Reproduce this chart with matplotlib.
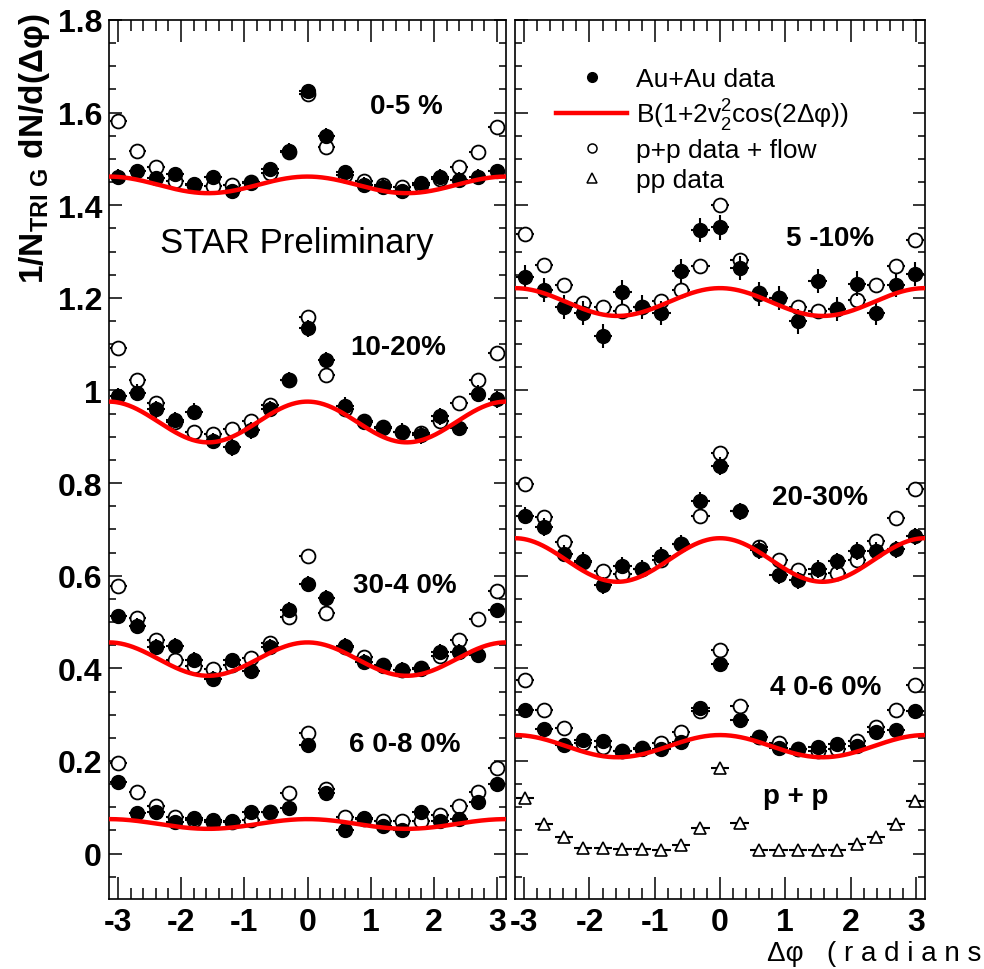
import numpy as np
import matplotlib
matplotlib.use("Agg")
import matplotlib.pyplot as plt
from matplotlib.lines import Line2D
from matplotlib.ticker import MultipleLocator, FixedLocator

plt.rcParams['font.family'] = ['Liberation Sans', 'DejaVu Sans']
plt.rcParams['mathtext.fontset'] = 'custom'
plt.rcParams['mathtext.rm'] = 'Liberation Sans'
plt.rcParams['mathtext.bf'] = 'Liberation Sans:bold'

# bin centres of 21 bins in [-pi, pi]
nbins = 21
dphi = -np.pi + (np.arange(nbins) + 0.5) * (2 * np.pi / nbins)

# ---------------- data (left panel) ----------------
auau_0_5 = [1.462, 1.474, 1.458, 1.467, 1.446, 1.460, 1.430, 1.448, 1.478, 1.518, 1.646,
            1.550, 1.471, 1.444, 1.440, 1.430, 1.448, 1.462, 1.455, 1.462, 1.473]
ppf_0_5 = [1.581, 1.518, 1.482, 1.453, 1.444, 1.442, 1.444, 1.451, 1.469, 1.514, 1.640,
           1.525, 1.466, 1.453, 1.444, 1.440, 1.443, 1.457, 1.482, 1.516, 1.569]
auau_10_20 = [0.988, 0.995, 0.959, 0.936, 0.954, 0.891, 0.877, 0.914, 0.960, 1.023, 1.134,
              1.065, 0.967, 0.932, 0.919, 0.911, 0.903, 0.944, 0.919, 0.993, 0.981]
ppf_10_20 = [1.092, 1.022, 0.974, 0.931, 0.911, 0.905, 0.916, 0.935, 0.968, 1.023, 1.158,
             1.033, 0.961, 0.935, 0.922, 0.911, 0.908, 0.935, 0.972, 1.022, 1.081]
auau_30_40 = [0.512, 0.491, 0.446, 0.449, 0.418, 0.377, 0.417, 0.395, 0.446, 0.527, 0.583,
              0.552, 0.448, 0.413, 0.405, 0.397, 0.399, 0.435, 0.436, 0.429, 0.525]
ppf_30_40 = [0.578, 0.509, 0.462, 0.418, 0.405, 0.399, 0.408, 0.423, 0.455, 0.511, 0.643,
             0.519, 0.446, 0.424, 0.408, 0.397, 0.400, 0.426, 0.462, 0.507, 0.566]
auau_60_80 = [0.154, 0.087, 0.089, 0.069, 0.077, 0.072, 0.071, 0.090, 0.090, 0.098, 0.235,
              0.130, 0.051, 0.076, 0.059, 0.051, 0.090, 0.071, 0.075, 0.111, 0.150]
ppf_60_80 = [0.196, 0.134, 0.103, 0.080, 0.073, 0.069, 0.069, 0.073, 0.089, 0.130, 0.261,
             0.139, 0.080, 0.075, 0.071, 0.070, 0.070, 0.084, 0.103, 0.134, 0.184]

# ---------------- data (right panel) ----------------
auau_5_10 = [1.246, 1.217, 1.180, 1.167, 1.117, 1.213, 1.180, 1.168, 1.257, 1.347, 1.352,
             1.264, 1.208, 1.199, 1.149, 1.236, 1.176, 1.231, 1.168, 1.228, 1.251]
ppf_5_10 = [1.337, 1.271, 1.228, 1.190, 1.180, 1.172, 1.181, 1.193, 1.218, 1.269, 1.401,
            1.282, 1.210, 1.199, 1.180, 1.172, 1.177, 1.195, 1.228, 1.269, 1.325]
auau_20_30 = [0.730, 0.705, 0.648, 0.632, 0.579, 0.622, 0.614, 0.643, 0.668, 0.762, 0.837,
              0.739, 0.655, 0.601, 0.590, 0.614, 0.631, 0.653, 0.653, 0.657, 0.685]
ppf_20_30 = [0.798, 0.727, 0.673, 0.630, 0.610, 0.604, 0.614, 0.635, 0.669, 0.729, 0.864,
             0.739, 0.661, 0.633, 0.612, 0.603, 0.607, 0.633, 0.675, 0.725, 0.787]
auau_40_60 = [0.311, 0.269, 0.235, 0.245, 0.244, 0.221, 0.226, 0.226, 0.242, 0.315, 0.410,
              0.289, 0.251, 0.228, 0.226, 0.230, 0.237, 0.233, 0.262, 0.267, 0.307]
ppf_40_60 = [0.375, 0.311, 0.271, 0.238, 0.230, 0.222, 0.228, 0.238, 0.262, 0.309, 0.439,
             0.318, 0.251, 0.238, 0.226, 0.221, 0.226, 0.244, 0.273, 0.311, 0.364]
pp_data = [0.120, 0.064, 0.035, 0.013, 0.013, 0.010, 0.010, 0.008, 0.018, 0.056, 0.184,
           0.067, 0.008, 0.008, 0.008, 0.008, 0.008, 0.021, 0.035, 0.063, 0.114]

# flow-modulated background parameters: B and v2^2
B_left = [1.444, 0.932, 0.420, 0.064]
v2sq_left = [0.0062, 0.0236, 0.0429, 0.082]
B_right = [1.191, 0.634, 0.232]
v2sq_right = [0.0126, 0.0371, 0.0517]

# statistical errors (Au+Au)
err_left = [0.016, 0.018, 0.017, 0.015]
err_right = [0.026, 0.019, 0.013]

labels_left = ["0-5 %", "10-20%", "30-4 0%", "6 0-8 0%"]
labels_right = ["5 -10%", "20-30%", "4 0-6 0%"]

yticks = [0, 0.2, 0.4, 0.6, 0.8, 1.0, 1.2, 1.4, 1.6, 1.8]
ytick_labels = ["0", "0.2", "0.4", "0.6", "0.8", "1", "1.2", "1.4", "1.6", "1.8"]
xticks = [-3, -2, -1, 0, 1, 2, 3]

W, H = 984, 970
fig = plt.figure(figsize=(W / 100, H / 100), dpi=100)
axL = fig.add_axes([109 / W, 1 - 900 / H, (506 - 109) / W, (900 - 21) / H])
axR = fig.add_axes([515 / W, 1 - 900 / H, (925 - 515) / W, (900 - 21) / H])

xerr = 0.14
ms = 10


def draw_set(ax, auau, ppf, err, B, v2sq):
    ax.errorbar(dphi, ppf, xerr=xerr, fmt='o', mfc='white', mec='black', mew=1.3,
                ms=ms, color='black', elinewidth=1.5, capsize=0, zorder=3)
    ax.errorbar(dphi, auau, xerr=xerr, yerr=err, fmt='o', mfc='black', mec='black',
                ms=ms, color='black', elinewidth=1.5, capsize=0, zorder=4)
    xs = np.linspace(-np.pi, np.pi, 400)
    ax.plot(xs, B * (1 + 2 * v2sq * np.cos(2 * xs)), color='#ff0000', lw=3.2, zorder=5)


for i in range(4):
    auau = [auau_0_5, auau_10_20, auau_30_40, auau_60_80][i]
    ppf = [ppf_0_5, ppf_10_20, ppf_30_40, ppf_60_80][i]
    draw_set(axL, auau, ppf, err_left[i], B_left[i], v2sq_left[i])
for i in range(3):
    auau = [auau_5_10, auau_20_30, auau_40_60][i]
    ppf = [ppf_5_10, ppf_20_30, ppf_40_60][i]
    draw_set(axR, auau, ppf, err_right[i], B_right[i], v2sq_right[i])

axR.errorbar(dphi, pp_data, xerr=xerr, fmt='^', mfc='white', mec='black', mew=1.2,
             ms=9, color='black', elinewidth=1.5, capsize=0, zorder=3)

for ax in (axL, axR):
    ax.set_xlim(-np.pi, np.pi)
    ax.set_ylim(-0.098, 1.8)
    ax.xaxis.set_major_locator(FixedLocator(xticks))
    ax.xaxis.set_minor_locator(MultipleLocator(0.2))
    ax.yaxis.set_major_locator(FixedLocator(yticks))
    ax.yaxis.set_minor_locator(MultipleLocator(0.05))
    ax.tick_params(which='both', direction='in', top=True, right=True, width=1.1)
    ax.tick_params(axis='x', which='major', length=16, pad=6, labelsize=23)
    ax.tick_params(axis='x', which='minor', length=8)
    ax.tick_params(axis='y', which='major', length=9, pad=5, labelsize=23)
    ax.tick_params(axis='y', which='minor', length=5)
    ax.set_xticklabels([str(t) for t in xticks], fontweight='bold')
    for s in ax.spines.values():
        s.set_linewidth(1.2)

axL.set_yticklabels(ytick_labels, fontweight='bold')
axR.set_yticklabels([])


def ftext(x, y, s, **kw):
    fig.text(x / W, 1 - y / H, s, ha='center', va='center', **kw)


# panel labels
ftext(406, 107, labels_left[0], fontsize=20, fontweight='bold')
ftext(398, 348, labels_left[1], fontsize=20, fontweight='bold')
ftext(405, 586, labels_left[2], fontsize=20, fontweight='bold')
ftext(405, 745, labels_left[3], fontsize=20, fontweight='bold')
ftext(830, 239, labels_right[0], fontsize=20, fontweight='bold')
ftext(820, 498, labels_right[1], fontsize=20, fontweight='bold')
ftext(826, 688, labels_right[2], fontsize=20, fontweight='bold')
ftext(796, 797, "p + p", fontsize=20, fontweight='bold')
ftext(297, 243, "STAR Preliminary", fontsize=25)

# y label
fig.text(35 / W, 1 - 14 / H, r"1/N$_{\mathbf{TRI\ G}}$ dN/d(Δφ)", rotation=90,
         ha='center', va='top', fontsize=24, fontweight='bold')
# x label (ends at the figure edge like the reference)
fig.text(981 / W, 1 - 954 / H, "Δφ   ( r a d i a n s", ha='right', va='center',
         fontsize=20)

# legend
handles = [
    Line2D([], [], ls='none', marker='o', mfc='black', mec='black', ms=7),
    Line2D([], [], color='#ff0000', lw=3.2),
    Line2D([], [], ls='none', marker='o', mfc='white', mec='black', ms=6.5, mew=1.1),
    Line2D([], [], ls='none', marker='^', mfc='white', mec='black', ms=6.5, mew=1.1),
]
leg_labels = ["Au+Au data", r"B(1+2v$_2^2$cos(2Δφ))", "p+p data + flow", "pp data"]
fig.legend(handles, leg_labels, loc='upper left', bbox_to_anchor=(556 / W, 1 - 68 / H),
           frameon=False, fontsize=19, handlelength=2.7, handletextpad=0.35,
           labelspacing=0.22, borderaxespad=0, borderpad=0)

fig.savefig("out.png", dpi=100)
